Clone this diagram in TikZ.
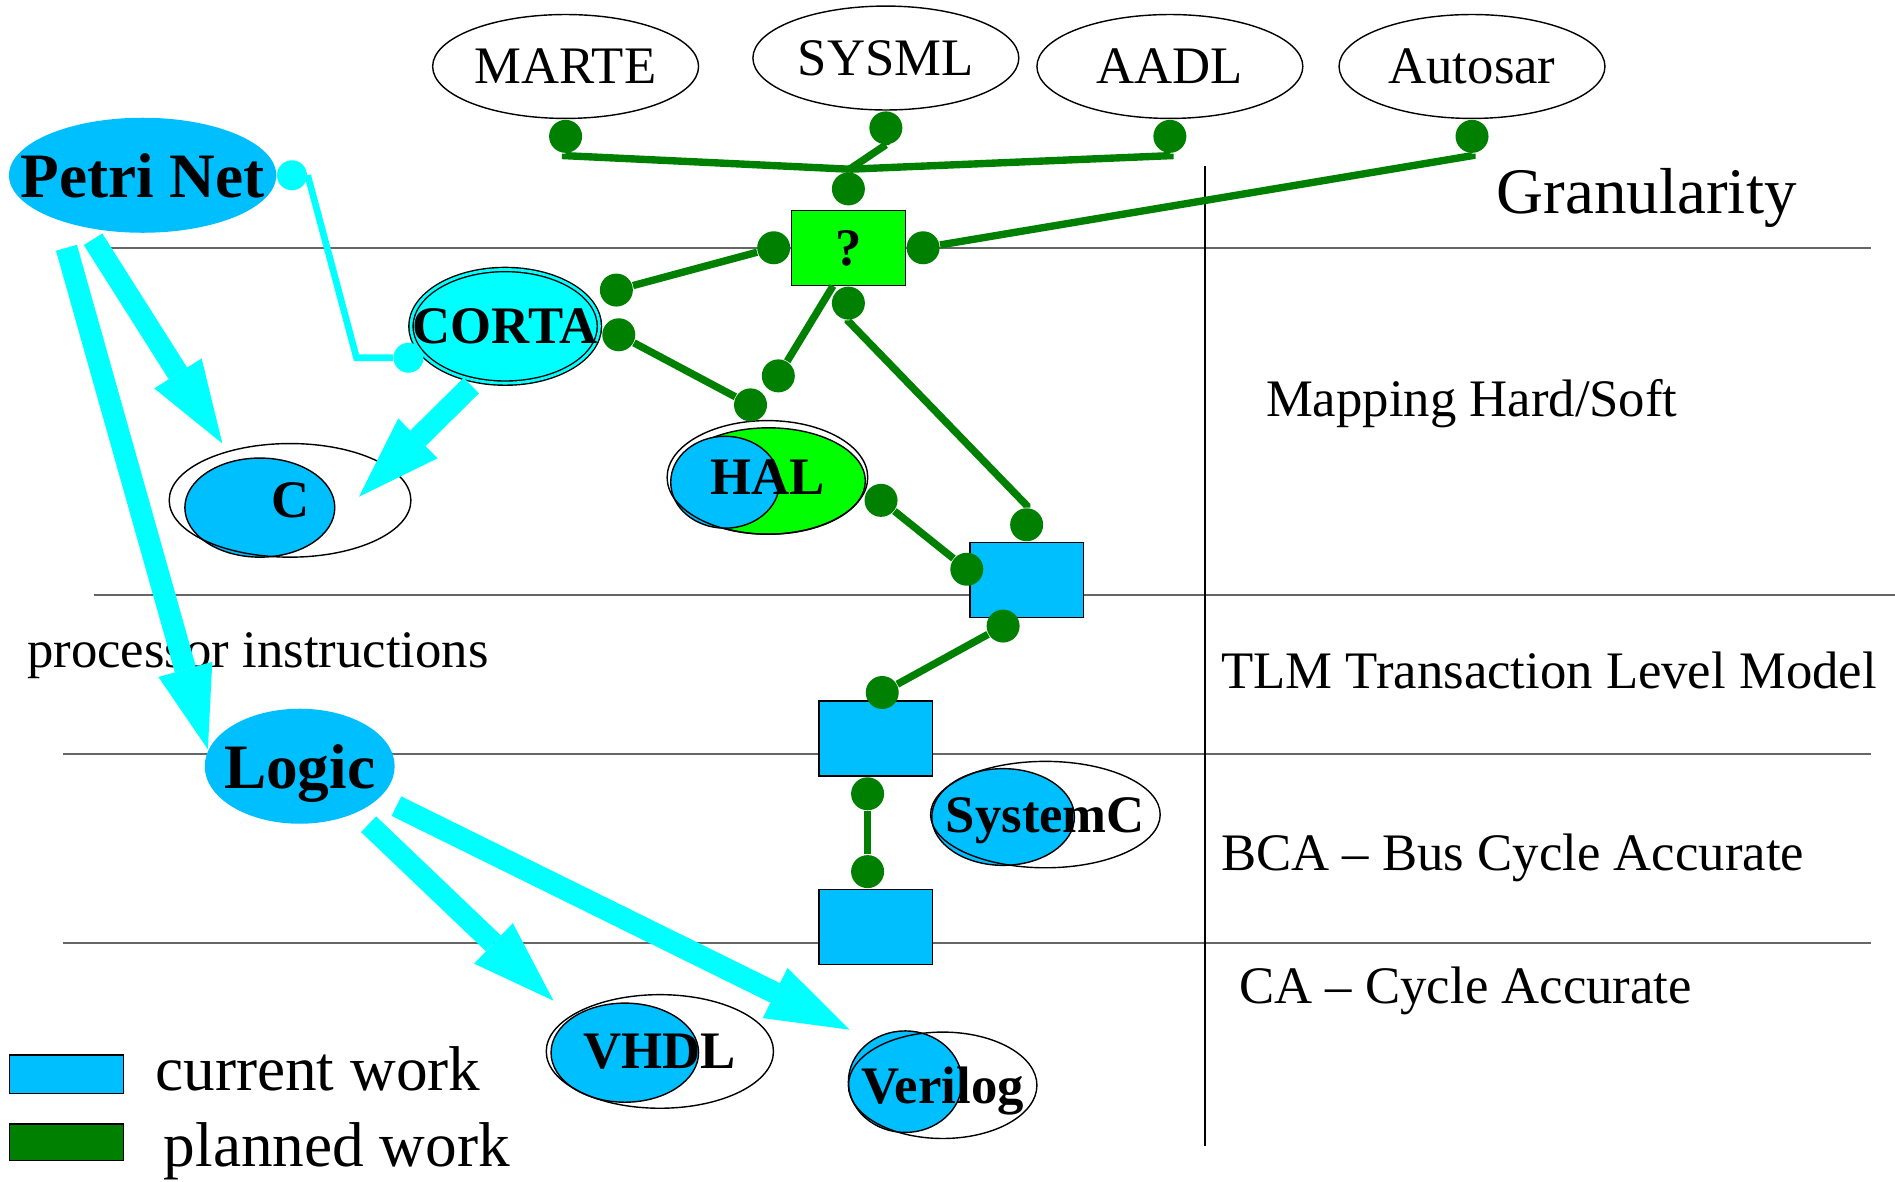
\documentclass[tikz,border=0pt]{standalone}
\usepackage{fontspec}
\setmainfont{Liberation Serif}
\usetikzlibrary{shapes.geometric,arrows.meta,positioning}
\definecolor{skyblue}{RGB}{0,191,255}
\definecolor{aqua}{RGB}{0,255,255}
\definecolor{hlgreen}{RGB}{0,255,0}
\definecolor{planned}{RGB}{0,128,0}

\begin{document}
\begin{tikzpicture}[x=0.012086cm, y=-0.012086cm]
\tikzstyle{tier}=[draw=black!60, line width=0.5pt]
\tikzstyle{txt}=[font=\fontsize{15}{18}\selectfont, inner sep=0, text depth=0pt]
\tikzstyle{btxt}=[font=\fontsize{15}{18}\selectfont\bfseries, inner sep=0, text depth=0pt]
\tikzstyle{bigtxt}=[font=\fontsize{18}{22}\selectfont\bfseries, inner sep=0, text depth=0pt]
\tikzstyle{legtxt}=[font=\fontsize{18}{22}\selectfont, inner sep=0, anchor=base west]
\tikzstyle{lang}=[ellipse, draw=black, line width=0.4pt, inner sep=0, minimum width=2.659cm, minimum height=1.039cm]
\tikzstyle{blob}=[ellipse, draw=black, line width=0.4pt, inner sep=0]
\tikzstyle{wbox}=[rectangle, draw=black, line width=0.4pt, fill=skyblue, minimum width=1.136cm, minimum height=0.749cm, inner sep=0]
\tikzstyle{joint}=[circle, fill=planned, minimum size=0.33cm, inner sep=0]
\tikzstyle{cjoint}=[circle, fill=aqua, minimum size=0.3cm, inner sep=0]
\tikzstyle{link}=[draw=planned, line width=2.1pt]
\tikzstyle{clink}=[draw=aqua, line width=1.9pt]
\tikzstyle{bigflow}=[draw=aqua, line width=6.2pt, -{Triangle[length=8.3mm, width=5.6mm, line width=0pt]}]
\useasboundingbox (0,0) rectangle (1568,977.2);

% abstraction levels
\draw[tier] (88,205) -- (1548,205);
\draw[tier] (78,492) -- (1568,492);
\draw[tier] (52,624) -- (1548,624);
\draw[tier] (52,780) -- (1548,780);
\draw[black, line width=0.4pt] (997,137) -- (997,948);
\node[txt, anchor=base west, font=\fontsize{18.5}{22}\selectfont] (gran) at (1238,177) {Granularity};
\node[txt, anchor=base west] (map) at (1047,345) {Mapping Hard/Soft};
\node[txt, anchor=base west] (tlm) at (1010,570) {TLM Transaction Level Model};
\node[txt, anchor=base west] (bca) at (1010,720) {BCA -- Bus Cycle Accurate};
\node[txt, anchor=base west] (ca) at (1025,830) {CA -- Cycle Accurate};
\node[txt, anchor=base west] (proc) at (22,552) {processor instructions};

% modelling languages
\node[lang, label={[txt]center:MARTE}] (marte) at (468,55) {};
\node[lang, label={[txt]center:SYSML}] (sysml) at (733,48) {};
\node[lang, label={[txt]center:AADL}] (aadl) at (968,55) {};
\node[lang, label={[txt]center:Autosar}] (autosar) at (1218,55) {};
\node[joint, below=0pt of marte] (dM) {};
\node[joint, below=0pt of sysml] (dS) {};
\node[joint, below=0pt of aadl] (dA) {};
\node[joint, below=0pt of autosar] (dU) {};
\coordinate (J) at (703,140);

% mapping
\node[wbox, fill=hlgreen, label={[btxt]center:?}] (q) at (702,205) {};
\node[joint, above=1pt of q] (qT) {};
\node[joint, left=0pt of q] (qL) {};
\node[joint, right=0pt of q] (qR) {};
\node[joint, below=0pt of q] (qB) {};

\node[blob, draw=skyblue, fill=skyblue, minimum width=2.659cm, minimum height=1.136cm, label={[bigtxt]center:Petri Net}] (petri) at (118,145) {};
\node[cjoint, right=0pt of petri] (pd1) {};
\node[blob, fill=aqua, double=aqua, double distance=0.8pt, minimum width=1.885cm, minimum height=1.136cm, label={[btxt]center:CORTA}] (corta) at (418,270) {};
\node[cjoint] (pd2) at (338,296) {};
\node[joint] (cT) at (510,240) {};
\node[joint] (cR) at (512,277) {};

\node[blob, fill=skyblue, minimum width=1.499cm, minimum height=0.991cm] (cin) at (215,420) {};
\node[blob, minimum width=2.417cm, minimum height=1.136cm, label={[btxt]center:C}] (cout) at (240,414) {};

\node[blob, fill=hlgreen, minimum width=1.934cm, minimum height=1.064cm] (halg) at (636,398) {};
\node[blob, fill=skyblue, minimum width=1.088cm, minimum height=0.919cm] (halb) at (600,399) {};
\node[blob, minimum width=2.006cm, minimum height=1.136cm, label={[btxt]center:HAL}] (hal) at (635,395) {};
\node[joint] (hT) at (621,335) {};
\node[joint] (qD) at (644,311) {};
\node[joint] (hR) at (729,414) {};

% refinement chain
\node[wbox] (b1) at (849.5,480) {};
\node[joint, above=0pt of b1] (b1T) {};
\node[joint] (b1L) at (800,471) {};
\node[joint] (b1B) at (830,518) {};
\node[wbox] (b2) at (724.5,611) {};
\node[joint] (b2T) at (730,573) {};
\node[joint, below=0pt of b2, xshift=-0.08cm] (b2B) {};
\node[wbox] (b3) at (724.5,767) {};
\node[joint, above=0pt of b3, xshift=-0.08cm] (b3T) {};

\node[blob, draw=skyblue, fill=skyblue, minimum width=1.885cm, minimum height=1.136cm, label={[bigtxt]center:Logic}] (logic) at (248,634) {};
\node[blob, fill=skyblue, minimum width=1.426cm, minimum height=0.967cm] (scb) at (830,676) {};
\node[blob, minimum width=2.296cm, minimum height=1.064cm, label={[btxt]center:SystemC}] (systemc) at (865,674) {};
\node[blob, fill=skyblue, minimum width=1.475cm, minimum height=0.991cm] (vhb) at (517,871) {};
\node[blob, minimum width=2.272cm, minimum height=1.136cm, label={[btxt]center:VHDL}] (vhdl) at (546,870) {};
\node[blob, fill=skyblue, minimum width=1.136cm, minimum height=1.015cm] (vlb) at (749,895) {};
\node[blob, minimum width=1.885cm, minimum height=1.064cm, label={[btxt]center:Verilog}] (verilog) at (780,898) {};

% legend
\node[wbox, minimum height=0.387cm] (kcur) at (55,889) {};
\node[wbox, fill=planned, minimum height=0.363cm] (kplan) at (55,945) {};
\node[legtxt] (lcur) at (128,902) {current work};
\node[legtxt] (lplan) at (135,965) {planned work};

% planned links
\path[link] (dM) -- ++(0,16) -- (J);
\path[link] (dA) -- ++(0,16) -- (J);
\path[link] (dS) -- ++(0,14) -- (J);
\path[link] (J) -- (qT);
\path[link] (dU) -- ++(0,16) -- (qR);
\path[link] (qL) -- (cT);
\path[link] (cR) -- (hT);
\path[link] (q.248) -- (qD);
\path[link] (qB) -- ++(0,15) -- ([shift={(0,-16)}]b1T.center) -- (b1T);
\path[link] (hR) -- (b1L);
\path[link] (b1B) -- (b2T);
\path[link] (b2B) -- (b3T);
\path[clink] (pd1.east) -- ([shift={(-43,0)}]pd2.center) -- (pd2);

% current transformations
\draw[bigflow] ([shift={(-63,60)}]petri.center) -- ([shift={(-76,-14)}]logic.center);
\draw[bigflow] ([shift={(-41,53)}]petri.center) -- ([shift={(-56,-47)}]cout.center);
\draw[bigflow] ([shift={(-28,49)}]corta.center) -- ([shift={(57,-3)}]cout.center);
\draw[bigflow] ([shift={(57,48)}]logic.center) -- ([shift={(-88,-42)}]vhdl.center);
\draw[bigflow] ([shift={(80,33)}]logic.center) -- ([shift={(-77,-46)}]verilog.center);
\end{tikzpicture}
\end{document}
